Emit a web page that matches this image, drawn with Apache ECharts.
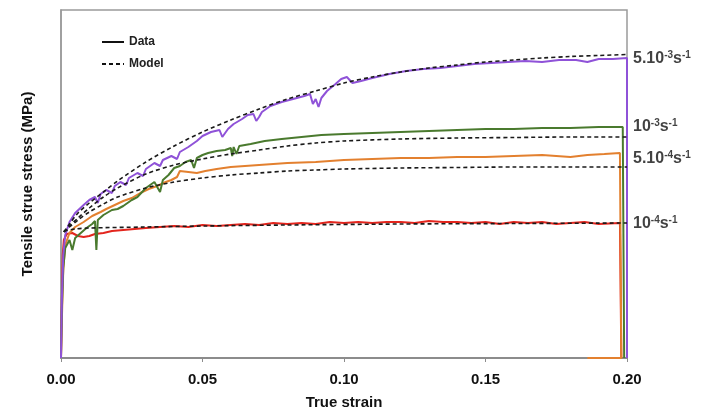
<!DOCTYPE html>
<html>
<head>
<meta charset="utf-8">
<script src="https://cdn.jsdelivr.net/npm/echarts@6/dist/echarts.min.js"></script>
<style>html,body{margin:0;padding:0;background:#fff}#c{width:712px;height:412px}</style>
</head>
<body>
<div id="c"></div>
<script>
// x tick labels
var xTicks = [0, 0.05, 0.10, 0.15, 0.20];
// Rate labels (text and stress level at end of curve)
var rateLabels = [
  ['5.10', '-3', 299],
  ['10', '-3', 231],
  ['5.10', '-4', 199],
  ['10', '-4', 134]
];
// Data: [true strain, stress]
var data5e3 = [[0,0],[0.0003,58],[0.0008,103],[0.0015,123],[0.003,136],[0.005,145],[0.008,153],[0.010,158],[0.012,161],[0.013,155],[0.014,164],[0.016,168],[0.018,165],[0.019,172],[0.021,176],[0.023,173],[0.024,180],[0.027,185],[0.029,182],[0.030,189],[0.033,195],[0.035,192],[0.036,198],[0.039,202],[0.041,199],[0.042,206],[0.045,211],[0.048,217],[0.050,222],[0.053,226],[0.056,228],[0.057,221],[0.059,229],[0.061,234],[0.064,239],[0.066,243],[0.068,244],[0.069,237],[0.070,241],[0.071,246],[0.074,252],[0.078,256],[0.082,259],[0.086,262],[0.088,264],[0.089,254],[0.090,259],[0.091,251],[0.092,260],[0.094,267],[0.097,274],[0.099,279],[0.101,281],[0.103,275],[0.106,277],[0.110,280],[0.116,284],[0.122,287],[0.128,289],[0.134,290],[0.140,292],[0.146,294],[0.152,295],[0.158,296],[0.164,297],[0.170,296],[0.176,298],[0.182,298],[0.186,296],[0.190,299],[0.195,299],[0.2,300],[0.2,0]];
var data1e3 = [[0,0],[0.0003,48],[0.0008,90],[0.0015,110],[0.003,118],[0.004,108],[0.005,120],[0.007,125],[0.009,130],[0.011,134],[0.012,137],[0.0125,108],[0.013,138],[0.015,143],[0.018,148],[0.020,149],[0.022,152],[0.025,158],[0.027,161],[0.030,170],[0.033,176],[0.035,166],[0.036,178],[0.038,183],[0.040,190],[0.042,192],[0.044,196],[0.046,198],[0.047,190],[0.048,200],[0.050,203],[0.052,205],[0.055,207],[0.058,208],[0.060,210],[0.0605,202],[0.061,211],[0.062,204],[0.063,212],[0.067,214],[0.072,217],[0.078,219],[0.085,221],[0.092,223],[0.100,224],[0.110,225],[0.120,226],[0.130,227],[0.140,228],[0.150,229],[0.160,229],[0.170,230],[0.180,230],[0.190,231],[0.1985,231],[0.199,0]];
var data5e4 = [[0,0],[0.0003,38],[0.0008,88],[0.0015,113],[0.003,125],[0.005,131],[0.008,136],[0.011,142],[0.014,146],[0.016,149],[0.019,153],[0.022,157],[0.025,160],[0.028,165],[0.031,169],[0.034,172],[0.037,176],[0.039,178],[0.041,181],[0.042,187],[0.045,186],[0.048,185],[0.051,187],[0.055,189],[0.060,191],[0.065,192],[0.070,193],[0.075,194],[0.080,195],[0.090,196],[0.100,198],[0.110,199],[0.120,200],[0.130,200],[0.140,201],[0.150,201],[0.160,202],[0.170,203],[0.180,201],[0.186,203],[0.192,204],[0.1975,205],[0.198,0],[0.186,0]];
var data1e4 = [[0,0],[0.0003,58],[0.0006,103],[0.001,118],[0.002,124],[0.004,125],[0.006,122],[0.008,121],[0.010,122],[0.012,124],[0.015,125],[0.018,127],[0.022,128],[0.026,129],[0.030,130],[0.035,131],[0.040,132],[0.045,131],[0.050,133],[0.055,132],[0.060,133],[0.065,134],[0.070,133],[0.075,135],[0.080,134],[0.085,135],[0.090,134],[0.095,136],[0.100,135],[0.105,136],[0.110,135],[0.115,136],[0.120,136],[0.125,135],[0.130,137],[0.135,136],[0.140,136],[0.145,135],[0.150,136],[0.155,134],[0.160,136],[0.165,135],[0.170,136],[0.175,134],[0.180,135],[0.185,136],[0.190,134],[0.1975,135],[0.198,0]];
// Model: [true strain, stress]
var model5e3 = [[0.001,126],[0.003,134],[0.006,145],[0.010,155],[0.015,166],[0.020,177],[0.030,196],[0.040,212],[0.050,226],[0.060,238],[0.070,249],[0.080,259],[0.090,267],[0.100,275],[0.110,281],[0.120,286],[0.130,290],[0.140,293],[0.150,296],[0.160,298],[0.170,300],[0.180,301.5],[0.190,302.5],[0.200,303.5]];
var model1e3 = [[0.001,126],[0.003,132],[0.006,140],[0.010,150],[0.015,161],[0.020,170],[0.030,184],[0.040,193],[0.050,199],[0.060,204],[0.070,208],[0.080,212],[0.090,215],[0.100,217],[0.120,219],[0.140,220],[0.160,220.5],[0.180,221],[0.200,221]];
var model5e4 = [[0.001,126],[0.003,131],[0.006,138],[0.010,146],[0.015,154],[0.020,161],[0.030,170],[0.040,176],[0.050,180],[0.060,183],[0.070,185],[0.080,187],[0.090,188],[0.100,189],[0.120,190],[0.140,190.5],[0.160,191],[0.180,191],[0.200,191]];
var model1e4 = [[0.001,127],[0.005,129],[0.010,130],[0.030,131],[0.050,132],[0.080,133],[0.120,134],[0.160,134.5],[0.200,135]];

var FONT = '"Liberation Sans", Arial, sans-serif';
function dataSeries(d, color) {
  return {type: 'line', data: d, symbol: 'none', silent: true, animation: false,
    lineStyle: {color: color, width: 2}, z: 3};
}
function modelSeries(d) {
  return {type: 'line', data: d, symbol: 'none', silent: true, animation: false, smooth: 0.3,
    lineStyle: {color: '#1a1a1a', width: 1.6, type: [4, 3]}, z: 4};
}
var chart = echarts.init(document.getElementById('c'));
chart.setOption({
  animation: false,
  textStyle: {fontFamily: FONT},
  grid: {left: 61, right: 85, top: 10, bottom: 54, show: true, borderColor: '#9a9a9a', borderWidth: 1.5,
    containLabel: false, outerBoundsMode: 'none'},
  legend: {
    data: ['Data', 'Model'], orient: 'vertical', left: 96, top: 31,
    itemWidth: 22, itemHeight: 14, itemGap: 10,
    itemStyle: {opacity: 0},
    textStyle: {fontFamily: FONT, fontWeight: 'bold', fontSize: 12, color: '#222'}
  },
  xAxis: {
    type: 'value', min: 0, max: 0.2, interval: 0.05,
    name: 'True strain', nameLocation: 'middle', nameGap: 37,
    nameTextStyle: {fontFamily: FONT, fontWeight: 'bold', fontSize: 15, color: '#111'},
    axisLine: {lineStyle: {color: '#8c8c8c', width: 2}},
    axisTick: {show: true, length: 4, lineStyle: {color: '#8c8c8c', width: 1}},
    axisLabel: {fontFamily: FONT, fontWeight: 'bold', fontSize: 15, color: '#111', margin: 14,
      formatter: function (v) { return v.toFixed(2); }},
    splitLine: {show: false}
  },
  yAxis: {
    type: 'value', min: 0, max: 348,
    name: 'Tensile strue stress (MPa)', nameLocation: 'middle', nameGap: 26,
    nameTextStyle: {fontFamily: FONT, fontWeight: 'bold', fontSize: 15, color: '#111'},
    axisLine: {show: true, lineStyle: {color: '#9a9a9a', width: 1.5}},
    axisTick: {show: false}, axisLabel: {show: false}, splitLine: {show: false}
  },
  series: [
    dataSeries(data1e4, '#e3251d'),
    dataSeries(data5e4, '#e3802f'),
    dataSeries(data1e3, '#4a7a2e'),
    dataSeries(data5e3, '#8f52d8'),
    modelSeries(model5e3),
    modelSeries(model1e3),
    modelSeries(model5e4),
    modelSeries(model1e4),
    {name: 'Data', type: 'line', data: [], symbol: 'none', showSymbol: false, lineStyle: {color: '#111', width: 2.5}, itemStyle: {color: '#111'}},
    {name: 'Model', type: 'line', data: [], symbol: 'none', showSymbol: false, lineStyle: {color: '#111', width: 2, type: [4, 3]}, itemStyle: {color: '#111'}},
    {
      type: 'scatter', symbolSize: 0, silent: true, z: 5,
      data: rateLabels.map(function (r) { return {value: [0.2, r[2]], base: r[0], exp: r[1]}; }),
      label: {
        show: true, position: 'right', distance: 6,
        formatter: function (p) { return '{b|' + p.data.base + '}{s|' + p.data.exp + '}{b|s}{s|-1}'; },
        rich: {
          b: {fontFamily: FONT, fontWeight: 'bold', fontSize: 16, color: '#111', lineHeight: 18},
          s: {fontFamily: FONT, fontWeight: 'bold', fontSize: 10, color: '#111', verticalAlign: 'top', lineHeight: 18, padding: [0, 0, 6, 0]}
        }
      }
    }
  ]
});
</script>
</body>
</html>
